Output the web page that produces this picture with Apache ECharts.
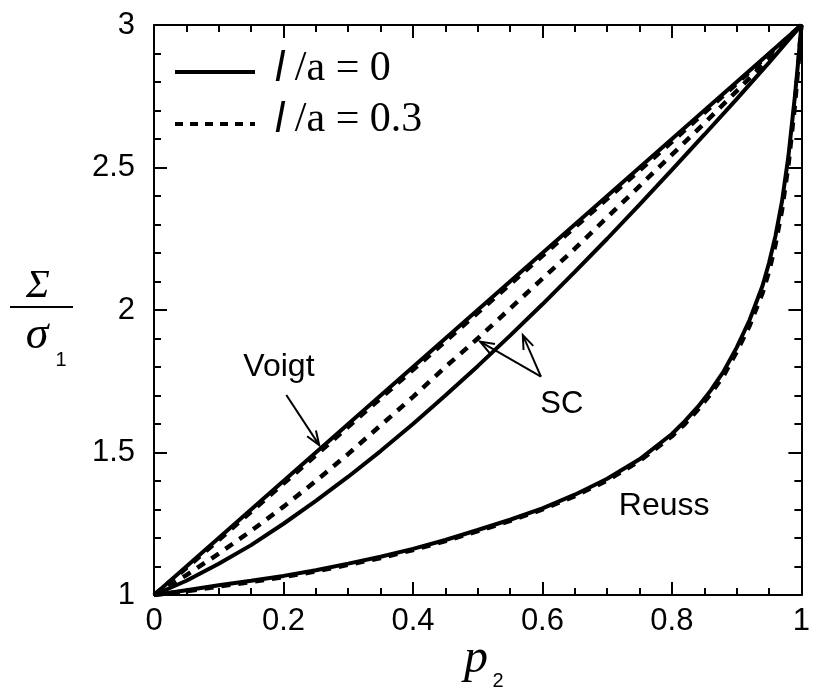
<!DOCTYPE html>
<html>
<head>
<meta charset="utf-8">
<script src="https://cdn.jsdelivr.net/npm/echarts@6/dist/echarts.min.js"></script>
<style>
html,body{margin:0;padding:0;background:#fff;}
#main{width:813px;height:691px;}
</style>
</head>
<body>
<div id="main"></div>
<script>
// ---- data ----
const pGrid = [0, 0.05, 0.1, 0.15, 0.2, 0.25, 0.3, 0.35, 0.4, 0.45, 0.5, 0.55, 0.6, 0.65, 0.7, 0.75, 0.8, 0.85, 0.9, 0.95, 1.0];
const voigt0  = [1.0, 1.1, 1.2, 1.3, 1.4, 1.5, 1.6, 1.7, 1.8, 1.9, 2.0, 2.1, 2.2, 2.3, 2.4, 2.5, 2.6, 2.7, 2.8, 2.9, 3.0];
const voigt03 = [1.0, 1.095, 1.193, 1.292, 1.391, 1.49, 1.59, 1.69, 1.79, 1.89, 1.99, 2.09, 2.19, 2.29, 2.39, 2.49, 2.59, 2.692, 2.794, 2.897, 3.0];
const sc0     = [1.0, 1.05, 1.11, 1.175, 1.25, 1.33, 1.415, 1.505, 1.6, 1.7, 1.803, 1.91, 2.02, 2.134, 2.25, 2.37, 2.492, 2.615, 2.74, 2.868, 3.0];
const sc03    = [1.0, 1.07, 1.145, 1.225, 1.31, 1.4, 1.495, 1.595, 1.695, 1.8, 1.9, 2.005, 2.11, 2.215, 2.325, 2.435, 2.545, 2.655, 2.768, 2.882, 3.0];
const reussP  = [0, 0.05, 0.1, 0.15, 0.2, 0.25, 0.3, 0.35, 0.4, 0.45, 0.5, 0.55, 0.6, 0.65, 0.7, 0.75, 0.8, 0.82, 0.84, 0.86, 0.88, 0.9, 0.92, 0.94, 0.95, 0.96, 0.97, 0.98, 0.99, 0.995, 1.0];
const reuss0  = [1.0, 1.017, 1.034, 1.05, 1.067, 1.087, 1.11, 1.134, 1.162, 1.193, 1.228, 1.264, 1.304, 1.352, 1.408, 1.476, 1.565, 1.61, 1.66, 1.718, 1.785, 1.868, 1.965, 2.085, 2.165, 2.26, 2.38, 2.54, 2.75, 2.87, 3.0];
const reuss03 = [1.0, 1.013, 1.03, 1.046, 1.063, 1.083, 1.106, 1.13, 1.158, 1.189, 1.224, 1.26, 1.3, 1.347, 1.402, 1.47, 1.557, 1.6, 1.65, 1.706, 1.77, 1.853, 1.945, 2.06, 2.135, 2.23, 2.35, 2.51, 2.72, 2.85, 3.0];
const xTicks = [0, 0.2, 0.4, 0.6, 0.8, 1];
const yTicks = [1, 1.5, 2, 2.5, 3];
const legendNames = ['l /a = 0', 'l /a = 0.3'];
// annotation anchors in data coordinates [p2, Sigma/sigma1]
const voigtLabel = [0.193, 1.80];
const voigtArrow = [[0.2044, 1.702], [0.2552, 1.526]];
const scLabel = [0.630, 1.670];
const scArrows = [[[0.5977, 1.766], [0.5038, 1.889]], [[0.5977, 1.766], [0.5697, 1.912]]];
const reussLabel = [0.788, 1.312];

const zip = (xs, ys) => xs.map((x, i) => [x, ys[i]]);
const chart = echarts.init(document.getElementById('main'));

const axisCommon = {
  type: 'value',
  axisLine: { show: true, onZero: false, lineStyle: { color: '#000', width: 2 } },
  axisTick: { show: true, inside: true, length: 13, lineStyle: { color: '#000', width: 2 } },
  minorTick: { show: true, length: 7, lineStyle: { color: '#000', width: 2 } },
  splitLine: { show: false },
  minorSplitLine: { show: false }
};
const labelFont = { fontSize: 31, fontFamily: 'Liberation Sans', color: '#000' };
const xFmt = v => {
  const r = Math.round(v * 10) / 10;
  if (!xTicks.some(t => Math.abs(t - r) < 1e-6)) return '';
  return r === 0 ? '0' : (r === 1 ? '1' : r.toFixed(1));
};

const solid = { color: '#000', width: 4, type: 'solid' };
const dashed = { color: '#000', width: 4.5, type: [9, 8], cap: 'butt' };
function ser(name, data, ls) {
  return { name, type: 'line', data, showSymbol: false, symbol: 'none', smooth: false,
           lineStyle: ls, animation: false, silent: true, z: 3 };
}

chart.setOption({
  animation: false,
  backgroundColor: '#fff',
  grid: { left: 154, right: 2, top: 25, bottom: 96 },
  xAxis: [
    Object.assign({}, axisCommon, { min: 0, max: 1, interval: 0.2, position: 'bottom',
      minorTick: Object.assign({}, axisCommon.minorTick, { splitNumber: 4 }),
      axisLabel: Object.assign({}, labelFont, { margin: 11, formatter: xFmt }) }),
    Object.assign({}, axisCommon, { min: 0, max: 1, interval: 0.2, position: 'top',
      minorTick: Object.assign({}, axisCommon.minorTick, { splitNumber: 4 }),
      axisLabel: { show: false } })
  ],
  yAxis: [
    Object.assign({}, axisCommon, { min: 1, max: 3, interval: 0.5, position: 'left',
      minorTick: Object.assign({}, axisCommon.minorTick, { splitNumber: 5 }),
      axisLabel: Object.assign({}, labelFont, { margin: 19, formatter: v => String(v) }) }),
    Object.assign({}, axisCommon, { min: 1, max: 3, interval: 0.5, position: 'right',
      minorTick: Object.assign({}, axisCommon.minorTick, { splitNumber: 5 }),
      axisLabel: { show: false } })
  ],
  series: [
    ser(legendNames[0], zip(pGrid, voigt0), solid),
    ser(legendNames[1], zip(pGrid, voigt03), dashed),
    ser(legendNames[0], zip(pGrid, sc0), solid),
    ser(legendNames[1], zip(pGrid, sc03), dashed),
    ser(legendNames[0], zip(reussP, reuss0), solid),
    ser(legendNames[1], zip(reussP, reuss03), dashed)
  ]
});

const px = d => chart.convertToPixel({ gridIndex: 0 }, d);
function arrowEls(tail, head) {
  const t = px(tail), h = px(head);
  const a = Math.atan2(h[1] - t[1], h[0] - t[0]);
  const L = 15, w = 0.36;
  const w1 = [h[0] - L * Math.cos(a - w), h[1] - L * Math.sin(a - w)];
  const w2 = [h[0] - L * Math.cos(a + w), h[1] - L * Math.sin(a + w)];
  return [
    { type: 'line', shape: { x1: t[0], y1: t[1], x2: h[0], y2: h[1] }, style: { stroke: '#000', lineWidth: 2 }, z: 10 },
    { type: 'polyline', shape: { points: [w1, h, w2] }, style: { stroke: '#000', lineWidth: 2, fill: null }, z: 10 }
  ];
}
function label(text, d, size) {
  const p = px(d);
  return { type: 'text', x: p[0], y: p[1], z: 10,
    style: { text, fill: '#000', fontSize: size, fontFamily: 'Liberation Sans', align: 'center', verticalAlign: 'middle' } };
}
const legendRich = { i: { fontStyle: 'italic', fontFamily: 'Liberation Sans', fontSize: 42, fill: '#000' },
                     n: { fontFamily: 'Liberation Serif', fontSize: 42, fill: '#000' } };
const graphics = [
  // legend
  { type: 'line', shape: { x1: 175, y1: 72, x2: 255, y2: 72 }, style: { stroke: '#000', lineWidth: 4 }, z: 10 },
  { type: 'text', x: 275, y: 69, z: 10, style: { text: '{i|l}{n| /a = 0}', rich: legendRich, verticalAlign: 'middle', align: 'left' } },
  { type: 'line', shape: { x1: 175, y1: 124, x2: 255, y2: 124 }, style: { stroke: '#000', lineWidth: 4, lineDash: [8, 7] }, z: 10 },
  { type: 'text', x: 275, y: 120, z: 10, style: { text: '{i|l}{n| /a = 0.3}', rich: legendRich, verticalAlign: 'middle', align: 'left' } },
  // y axis title: Sigma / sigma_1
  { type: 'text', x: 38, y: 286, z: 10, style: { text: 'Σ', fill: '#000', fontSize: 40, fontStyle: 'italic', fontFamily: 'Liberation Serif', align: 'center', verticalAlign: 'middle' } },
  { type: 'line', shape: { x1: 10, y1: 307, x2: 73, y2: 307 }, style: { stroke: '#000', lineWidth: 2 }, z: 10 },
  { type: 'text', x: 37, y: 336, z: 10, style: { text: 'σ', fill: '#000', fontSize: 46, fontStyle: 'italic', fontFamily: 'Liberation Serif', align: 'center', verticalAlign: 'middle' } },
  { type: 'text', x: 61, y: 360, z: 10, style: { text: '1', fill: '#000', fontSize: 20, fontFamily: 'Liberation Sans', align: 'center', verticalAlign: 'middle' } },
  // x axis title: p_2
  { type: 'text', x: 476, y: 659, z: 10, style: { text: 'p', fill: '#000', fontSize: 48, fontStyle: 'italic', fontFamily: 'Liberation Serif', align: 'center', verticalAlign: 'middle' } },
  { type: 'text', x: 498, y: 681, z: 10, style: { text: '2', fill: '#000', fontSize: 20, fontFamily: 'Liberation Sans', align: 'center', verticalAlign: 'middle' } },
  // annotations
  label('Voigt', voigtLabel, 32),
  label('SC', scLabel, 31),
  label('Reuss', reussLabel, 32)
].concat(arrowEls(voigtArrow[0], voigtArrow[1]), arrowEls(scArrows[0][0], scArrows[0][1]), arrowEls(scArrows[1][0], scArrows[1][1]));

chart.setOption({ graphic: graphics });
</script>
</body>
</html>
